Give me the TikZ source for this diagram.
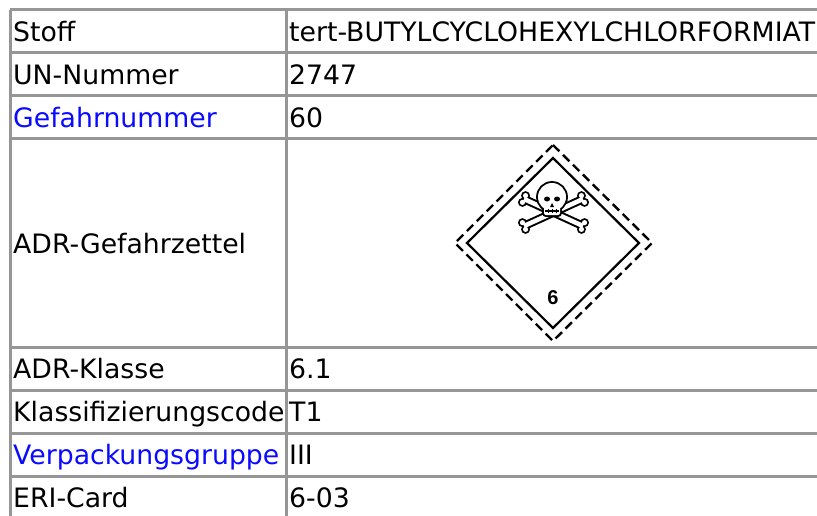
\documentclass[tikz,border=0pt]{standalone}
\usepackage{fontspec}
\setmainfont{DejaVu Sans}
\newfontfamily\numfont{Liberation Sans}
\usetikzlibrary{calc}
\definecolor{gridgray}{RGB}{150,150,150}
\definecolor{linkblue}{RGB}{10,10,255}
\tikzset{
  cell/.style={anchor=base west, inner sep=0pt, font=\fontsize{26.7}{30}\selectfont},
  link/.style={cell, text=linkblue},
  rule/.style={gridgray, line width=3pt},
}
\begin{document}
\begin{tikzpicture}[x=1pt,y=-1pt]
  \useasboundingbox (0,0) rectangle (817,516);
  \fill[white] (0,0) rectangle (817,516);
  % table rules
  \foreach \y in {10,53,96,139,347,390,433,476}
    \draw[rule] (10,\y) -- (817,\y);
  \draw[rule] (10,10) -- (10,516);
  \draw[rule] (286,10) -- (286,516);
  % left column
  \node[cell] (stoff) at (13,42) {Stoff};
  \node[cell] (unnr) at (13,85) {UN-Nummer};
  \node[link] (gefnr) at (13,128) {Gefahrnummer};
  \node[cell] (zettel) at (13,253) {ADR-Gefahrzettel};
  \node[cell] (klasse) at (13,378) {ADR-Klasse};
  \node[cell] (code) at (13,421) {Klassifizierungscode};
  \node[link] (vpg) at (13,464) {Verpackungsgruppe};
  \node[cell] (eri) at (13,507) {ERI-Card};
  % right column
  \node[cell] (stoffval) at (289,42) {tert-BUTYLCYCLOHEXYLCHLORFORMIAT};
  \node[cell] (unnrval) at (289,85) {2747};
  \node[cell] (gefnrval) at (289,128) {60};
  \node[cell] (klasseval) at (289,378) {6.1};
  \node[cell] (codeval) at (289,421) {T1};
  \node[cell] (vpgval) at (289,464) {III};
  \node[cell] (erival) at (289,507) {6-03};
  % hazard label
  \draw[line width=2.4pt, dash pattern=on 9pt off 5pt]
    (553,145) -- (652,243) -- (553,341) -- (455,243) -- cycle;
  \draw[line width=2.2pt] (553,158) -- (639,243) -- (553,328) -- (467,243) -- cycle;
  % crossbones
  \coordinate (b1s) at (524,199);
  \coordinate (b1e) at (583,226);
  \coordinate (b2s) at (524,226);
  \coordinate (b2e) at (583,199);
  \foreach \s/\e in {b1s/b1e, b2s/b2e} {
    \draw[line width=8.5pt] (\s) -- (\e);
    \foreach \p/\q in {\s/\e, \e/\s} {
      \fill ($(\p)!3.7pt!90:(\q)$) circle (4.5pt);
      \fill ($(\p)!3.7pt!-90:(\q)$) circle (4.5pt);
    }
  }
  \foreach \s/\e in {b1s/b1e, b2s/b2e} {
    \draw[white, line width=4.5pt] (\s) -- (\e);
    \foreach \p/\q in {\s/\e, \e/\s} {
      \fill[white] ($(\p)!3.7pt!90:(\q)$) circle (2.6pt);
      \fill[white] ($(\p)!3.7pt!-90:(\q)$) circle (2.6pt);
    }
  }
  % skull
  \draw[line width=3.8pt] (552,197) circle (14pt);
  \draw[line width=3.8pt, rounded corners=2pt] (544,205) rectangle (560,215);
  \fill[white] (552,197) circle (14pt);
  \fill[white, rounded corners=2pt] (544,205) rectangle (560,215);
  \fill (547,199) ellipse (3pt and 2.5pt);
  \fill (557,199) ellipse (3pt and 2.5pt);
  \fill (552,203) -- (554,207) -- (550,207) -- cycle;
  \draw[line width=1.5pt] (545,211) -- (559,211);
  \foreach \x in {548,552,556}
    \draw[line width=1pt] (\x,209) -- (\x,213);
  \node[font=\numfont\bfseries\fontsize{20}{22}\selectfont, inner sep=0pt] (klnr) at (553,298) {6};
\end{tikzpicture}
\end{document}
